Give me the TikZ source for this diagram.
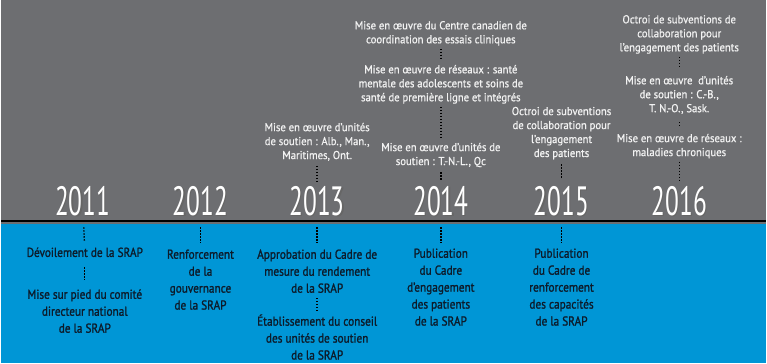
\documentclass[tikz,border=0pt]{standalone}
\usepackage{fontspec}
\setmainfont{PT Sans}
\newfontfamily\downfont{PT Sans}[FakeStretch=0.87, FakeBold=1.3]
\newfontfamily\upfont{PT Sans}[FakeStretch=0.93, FakeBold=0.8]
\newfontfamily\yearfont{PT Sans}[FakeStretch=0.62]
\definecolor{band}{HTML}{6D6E71}
\definecolor{sea}{HTML}{0096D6}
\definecolor{ink}{HTML}{0D1B2A}
\definecolor{paper}{HTML}{F2F2F2}
% year digits with their shadow
\newcommand\yr[1]{\rlap{\textcolor{black!60}{\kern1.2pt\raisebox{-1.2pt}{#1}}}#1}

\begin{document}
\begin{tikzpicture}[x=1pt,y=-1pt,
  year/.style={font=\yearfont\fontsize{41}{41}\selectfont, text=white, inner sep=0, anchor=base},
  up/.style={font=\upfont\fontsize{11.5}{14}\selectfont, text=paper, align=center, inner sep=0, anchor=north},
  down/.style={font=\downfont\fontsize{13}{17}\selectfont, text=ink, align=center, inner sep=0, anchor=north},
  link/.style={draw=black, line width=1.4pt, dash pattern=on 1.4pt off 1.6pt, shorten <=5pt, shorten >=5pt},
  drop/.style={link, shorten <=10pt, shorten >=6pt}]

  % background
  \fill[band] (0,0) rectangle (767,225);
  \fill[sea] (0,225) rectangle (767,364);
  \draw[line width=2pt] (0,221.5) -- (767,221.5);

  % years
  \node[year] (Y1) at (82,216) {\yr{2011}};
  \node[year] (Y2) at (200,216) {\yr{2012}};
  \node[year] (Y3) at (317,216) {\yr{2013}};
  \node[year] (Y4) at (441,216) {\yr{2014}};
  \node[year] (Y5) at (562,216) {\yr{2015}};
  \node[year] (Y6) at (680,216) {\yr{2016}};

  % above the line
  \node[up] (T3) at (317,123) {Mise en œuvre d’unités\\de soutien : Alb., Man.,\\Maritimes, Ont.};
  \node[up] (T4a) at (441,21) {Mise en œuvre du Centre canadien de\\coordination des essais cliniques};
  \node[up] (T4b) at (441,65) {Mise en œuvre de réseaux : santé\\mentale des adolescents et soins de\\santé de première ligne et intégrés};
  \node[up] (T4c) at (441,143) {Mise en œuvre d’unités de\\soutien : T.-N.-L., Qc};
  \node[up] (T5) at (562,107) {Octroi de subventions\\de collaboration pour\\l’engagement\\des patients};
  \node[up] (T6a) at (680,15) {Octroi de subventions de\\collaboration pour\\l’engagement des patients};
  \node[up] (T6b) at (680,76) {Mise en œuvre\ \ d’unités\\de soutien : C.-B.,\\T. N.-O., Sask.};
  \node[up] (T6c) at (680,134) {Mise en œuvre de réseaux :\\maladies chroniques};

  % below the line
  \node[down] (B1a) at (84,248) {Dévoilement de la SRAP};
  \node[down] (B1b) at (84,290) {Mise sur pied du comité\\directeur national\\de la SRAP};
  \node[down] (B2) at (200,250) {Renforcement\\de la\\gouvernance\\de la SRAP};
  \node[down] (B3a) at (317,250) {Approbation du Cadre de\\mesure du rendement\\de la SRAP};
  \node[down] (B3b) at (317,315) {Établissement du conseil\\des unités de soutien\\de la SRAP};
  \node[down] (B4) at (441,249) {Publication\\du Cadre\\d’engagement\\des patients\\de la SRAP};
  \node[down] (B5) at (562,249) {Publication\\du Cadre de\\renforcement\\des capacités\\de la SRAP};

  % dotted links
  \draw[drop] (Y1) -- (B1a);
  \draw[link, shorten <=10pt, shorten >=9pt] (B1a) -- (B1b);
  \draw[drop] (Y2) -- (B2);
  \draw[link] (T3) -- (Y3);
  \draw[drop] (Y3) -- (B3a);
  \draw[link, shorten >=3pt] (B3a) -- (B3b);
  \draw[link, shorten <=3pt, shorten >=7pt] (T4a) -- (T4b);
  \draw[link, shorten <=3pt] (T4b) -- (T4c);
  \draw[link] (T4c) -- (Y4);
  \draw[drop] (Y4) -- (B4);
  \draw[link, shorten >=7pt] (T5) -- (Y5);
  \draw[drop] (Y5) -- (B5);
  \draw[link, shorten <=3pt, shorten >=8pt] (T6a) -- (T6b);
  \draw[link, shorten <=8pt, shorten >=6pt] (T6b) -- (T6c);
  \draw[link, shorten <=3pt] (T6c) -- (Y6);
\end{tikzpicture}
\end{document}
